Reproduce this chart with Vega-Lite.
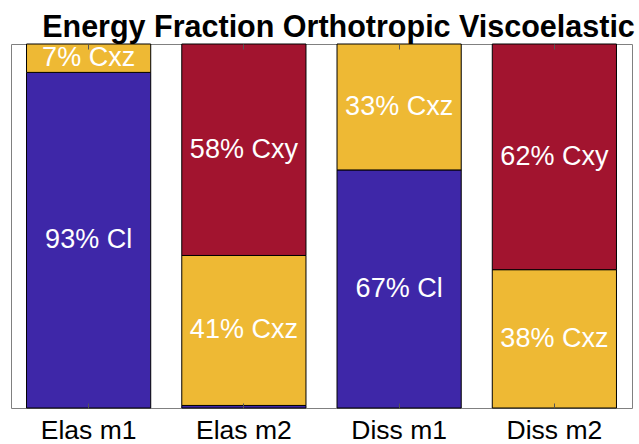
{
  "$schema": "https://vega.github.io/schema/vega-lite/v6.json",
  "width": 621,
  "height": 364,
  "autosize": {"type": "none"},
  "padding": {"left": 11, "top": 44, "right": 7, "bottom": 36},
  "background": "white",
  "title": {
    "text": "Energy Fraction Orthotropic Viscoelastic",
    "font": "Liberation Sans",
    "fontSize": 30.5,
    "fontWeight": "bold",
    "color": "black",
    "anchor": "middle",
    "dx": 17,
    "baseline": "alphabetic",
    "offset": -24
  },
  "config": {"view": {"stroke": "#808080", "strokeWidth": 1}},
  "data": {
    "values": [
      {"cat": "Elas m1", "comp": "Cl", "order": 1, "value": 92.2, "label": "93% Cl"},
      {"cat": "Elas m1", "comp": "Cxz", "order": 2, "value": 7.8, "label": "7% Cxz"},
      {"cat": "Elas m2", "comp": "Cl", "order": 1, "value": 0.7, "label": ""},
      {"cat": "Elas m2", "comp": "Cxz", "order": 2, "value": 41.2, "label": "41% Cxz"},
      {"cat": "Elas m2", "comp": "Cxy", "order": 3, "value": 58.1, "label": "58% Cxy"},
      {"cat": "Diss m1", "comp": "Cl", "order": 1, "value": 65.4, "label": "67% Cl"},
      {"cat": "Diss m1", "comp": "Cxz", "order": 2, "value": 34.6, "label": "33% Cxz"},
      {"cat": "Diss m2", "comp": "Cxz", "order": 2, "value": 38, "label": "38% Cxz"},
      {"cat": "Diss m2", "comp": "Cxy", "order": 3, "value": 62, "label": "62% Cxy"}
    ]
  },
  "transform": [
    {"stack": "value", "groupby": ["cat"], "sort": [{"field": "order"}], "as": ["y0", "y1"]},
    {"calculate": "(datum.y0 + datum.y1) / 2", "as": "ymid"}
  ],
  "resolve": {"axis": {"x": "independent"}},
  "layer": [
    {
      "mark": {"type": "bar", "stroke": "black", "strokeWidth": 1},
      "encoding": {
        "x": {
          "field": "cat",
          "type": "nominal",
          "sort": ["Elas m1", "Elas m2", "Diss m1", "Diss m2"],
          "scale": {"paddingInner": 0.2, "paddingOuter": 0.1},
          "axis": {
            "orient": "bottom",
            "title": null,
            "domain": false,
            "ticks": true,
            "tickSize": -5,
            "tickColor": "#555555",
            "labelAngle": 0,
            "labelFont": "Liberation Sans",
            "labelFontSize": 26.5,
            "labelColor": "black",
            "labelBaseline": "alphabetic",
            "labelPadding": 35,
            "zindex": 1
          }
        },
        "y": {"field": "y0", "type": "quantitative", "scale": {"domain": [0, 100], "nice": false}, "axis": null},
        "y2": {"field": "y1"},
        "color": {
          "field": "comp",
          "type": "nominal",
          "scale": {"domain": ["Cl", "Cxz", "Cxy"], "range": ["#3E27A8", "#EEB934", "#A2142F"]},
          "legend": null
        }
      }
    },
    {
      "transform": [{"filter": "datum.label != ''"}],
      "mark": {"type": "text", "color": "white", "font": "Liberation Sans", "fontSize": 27, "baseline": "middle", "align": "center"},
      "encoding": {
        "x": {
          "field": "cat",
          "type": "nominal",
          "sort": ["Elas m1", "Elas m2", "Diss m1", "Diss m2"],
          "axis": {
            "orient": "top",
            "title": null,
            "domain": false,
            "labels": false,
            "ticks": true,
            "tickSize": -5,
            "tickColor": "#555555",
            "zindex": 1
          }
        },
        "y": {"field": "ymid", "type": "quantitative"},
        "text": {"field": "label"}
      }
    }
  ]
}
